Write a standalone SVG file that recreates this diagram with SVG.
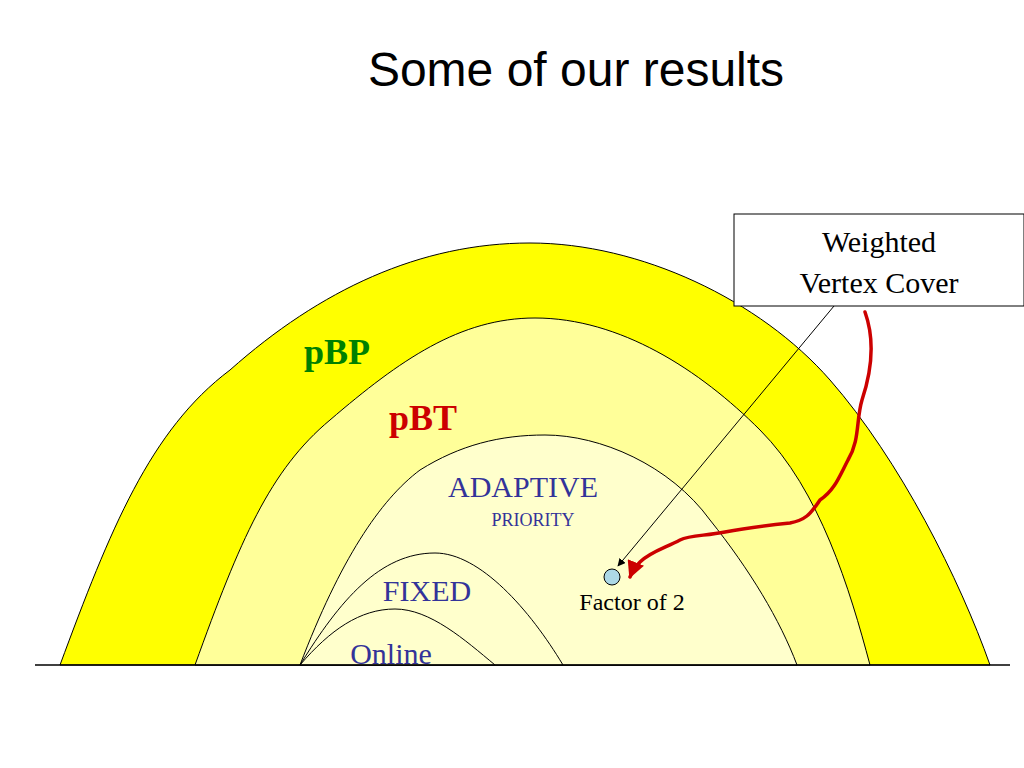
<svg xmlns="http://www.w3.org/2000/svg" width="1024" height="768" viewBox="0 0 1024 768">
<defs>
<marker id="ah" viewBox="0 0 10 10" refX="9" refY="5" markerWidth="8" markerHeight="8" orient="auto" markerUnits="userSpaceOnUse"><path d="M0,0 L10,5 L0,10 Z" fill="#000"/></marker>
<marker id="rh" viewBox="0 0 10 10" refX="9" refY="5" markerWidth="5" markerHeight="5" orient="auto"><path d="M0,0 L10,5 L0,10 Z" fill="#CC0000"/></marker>
</defs>
<style>
.r{stroke:#000;stroke-width:1}
.s{font-family:"Liberation Serif",serif}
.b{fill:#333399}
</style>
<rect width="1024" height="768" fill="#fff"/>
<text x="576" y="86" text-anchor="middle" font-family="Liberation Sans,Arial,sans-serif" font-size="48">Some of our results</text>
<g id="pBP"><path class="r" fill="#FFFF00" d="M60,665 C110,530 150,430 230,370 C320,290 420,243 530,243 C640,243 760,300 830,380 C900,460 960,580 990,665 Z"/>
<text x="337" y="364" text-anchor="middle" class="s" font-size="36" font-weight="bold" fill="#008000">pBP</text></g>
<g id="pBT"><path class="r" fill="#FFFF99" d="M195,665 C240,540 270,470 330,420 C400,360 460,318 535,318 C620,318 700,370 760,430 C820,490 850,590 870,665 Z"/>
<text x="423" y="430" text-anchor="middle" class="s" font-size="36" font-weight="bold" fill="#CC0000">pBT</text></g>
<g id="adaptive"><path class="r" fill="#FFFFCC" d="M300,665 C340,560 380,500 420,470 C460,445 500,435 545,435 C600,435 670,465 710,520 C750,570 780,620 797,665 Z"/>
<text x="523" y="497" text-anchor="middle" class="s b" font-size="30">ADAPTIVE</text>
<text x="533" y="526" text-anchor="middle" class="s b" font-size="18">PRIORITY</text></g>
<g id="fixed"><path class="r" fill="none" d="M300,665 C340,600 380,553 435,553 C480,553 530,610 563,665"/>
<text x="427" y="601" text-anchor="middle" class="s b" font-size="30">FIXED</text></g>
<g id="online"><path class="r" fill="none" d="M300,665 C330,630 360,609 395,609 C430,609 465,640 495,665"/>
<text x="391" y="664" text-anchor="middle" class="s b" font-size="30">Online</text></g>
<line x1="35" y1="665" x2="1010" y2="665" stroke="#000" stroke-width="1.5"/>
<g id="wvc"><rect x="734" y="214" width="290" height="92" fill="#fff" stroke="#000"/>
<text x="879" y="252" text-anchor="middle" class="s" font-size="30">Weighted</text>
<text x="879" y="293" text-anchor="middle" class="s" font-size="30">Vertex Cover</text></g>
<g id="factor"><circle cx="612" cy="577" r="8" fill="#ADD8E6" stroke="#000"/>
<text x="632" y="610" text-anchor="middle" class="s" font-size="24">Factor of 2</text></g>
<g id="connectors">
<line x1="834" y1="306" x2="618" y2="566" stroke="#000" stroke-width="1" marker-end="url(#ah)"/>
<path d="M865,312 C875,340 872,370 862,400 C856,420 860,440 848,460 C840,475 835,490 820,500 C810,515 805,520 790,523 C770,525 745,528 725,532 C705,536 690,535 680,540 C665,548 650,552 640,562 C635,567 632,572 630,577" fill="none" stroke="#CC0000" stroke-width="3.5" stroke-linecap="round" marker-end="url(#rh)"/>
</g>
</svg>
